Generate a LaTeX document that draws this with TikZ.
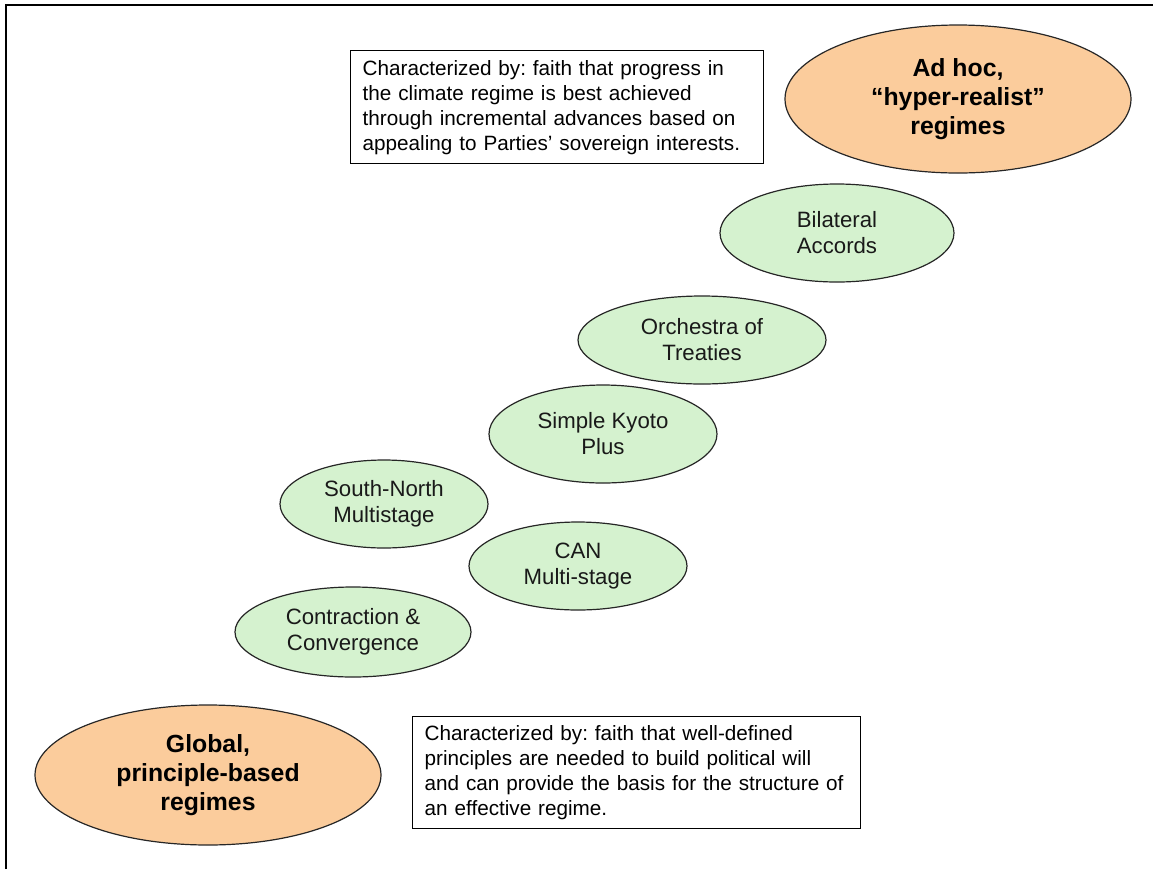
\documentclass[tikz,border=0pt]{standalone}
\usepackage{fontspec}
\setmainfont{Liberation Sans}
\usetikzlibrary{shapes.geometric}
\frenchspacing

\definecolor{peach}{RGB}{251,204,156}
\definecolor{mint}{RGB}{213,242,207}

\tikzset{
  regime/.style 2 args={ellipse,draw=black!85,line width=0.6pt,
    minimum width=#1pt,minimum height=#2pt,inner sep=0pt,align=center},
  pole/.style={fill=peach,font=\fontsize{12.4}{14.6}\selectfont\bfseries},
  option/.style={fill=mint,text=black!90,font=\fontsize{11.1}{13}\selectfont},
  note/.style={draw,line width=0.7pt,anchor=north west,align=left,
    font=\fontsize{10.35}{12.5}\selectfont,inner ysep=0pt}
}

\begin{document}
\begin{tikzpicture}[x=0.5pt,y=-0.5pt]
  \useasboundingbox (0,0) rectangle (1153,869);
  % frame
  \draw[line width=1pt] (6,869) -- (6,5) -- (1153,5);

  % the two ends of the scale
  \node[regime={173}{74},pole] (adhoc) at (958,99)
    {Ad hoc,\\``hyper-realist''\\regimes};
  \node[regime={173}{70},pole] (global) at (208,775)
    {Global,\\principle-based\\regimes};

  % regime proposals
  \foreach \n/\x/\y/\a/\b/\t in {
      bilat/837/233/117/49/{Bilateral\\Accords},
      orch/702/340/124/44/{Orchestra of\\Treaties},
      kyoto/603/434/114/49/{Simple Kyoto\\Plus},
      sn/384/504/104/44/{South-North\\Multistage},
      can/578/566/109/44/{CAN\\Multi-stage},
      cc/353/632/118/45/{Contraction \&\\Convergence}}
    \node[regime={\a}{\b},option] (\n) at (\x,\y) {\t};

  % characterizations
  \node[note,text width=194.5pt,inner xsep=6pt,minimum height=56.5pt] (adnote) at (350,50)
    {Characterized by: faith that progress in\\the climate regime is best achieved\\through incremental advances based on\\appealing to Parties' sovereign interests.};
  \node[note,text width=212pt,inner xsep=6pt,minimum height=56pt] (glnote) at (412,716)
    {Characterized by: faith that well-defined\\principles are needed to build political will\\and can provide the basis for the structure of\\an effective regime.};
\end{tikzpicture}
\end{document}
